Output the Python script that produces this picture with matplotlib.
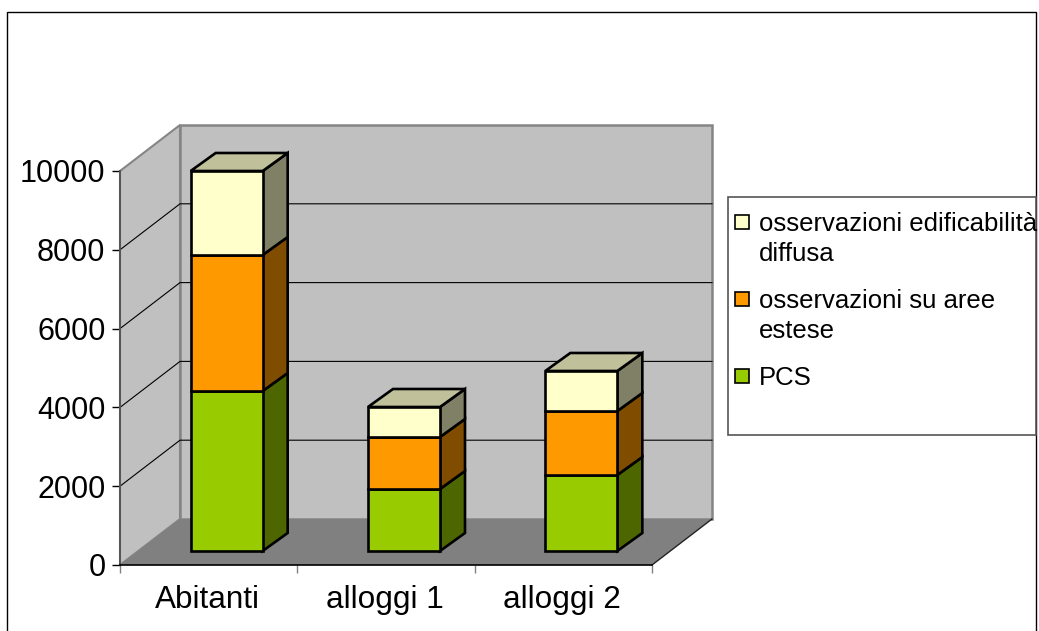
import numpy as np
import matplotlib
matplotlib.use("Agg")
import matplotlib.pyplot as plt
from matplotlib.patches import Polygon, Rectangle

plt.rcParams['font.family'] = ['Liberation Sans', 'DejaVu Sans']

categories = ["Abitanti", "alloggi 1", "alloggi 2"]
pcs = [4060, 1574, 1929]
osservazioni_aree = [3453, 1319, 1624]
osservazioni_diffusa = [2132, 762, 1016]
yticks = [0, 2000, 4000, 6000, 8000, 10000]

W, H = 1039, 631


def fx(px):
    return px / W


def fy(py):
    return 1 - py / H


# ------------------------
# Figure and front plane of the chart
# ------------------------
fig = plt.figure(figsize=(W / 100, H / 100), dpi=100)
ax = fig.add_axes([fx(120), fy(565), 532 / W, 394 / H])
ax.set_xlim(-0.5, 2.5)
ax.set_ylim(0, 10000)
ax.patch.set_visible(False)

# pixels -> data units
ux = 3 / 532
uy = 10000 / 394

# wall depth, and where the bars sit inside it
wall_dx, wall_dy = 60 * ux, 46 * uy
bar_x, bar_y = 18 * ux, 14 * uy
bar_dx, bar_dy = 25 * ux, 18 * uy
bar_w = 72 * ux


def add_poly(pts, **kw):
    p = Polygon(pts, closed=True, clip_on=False, **kw)
    ax.add_patch(p)
    return p


x0, x1 = -0.5, 2.5
ymax = 10000
wall = '#c0c0c0'
wall_edge = '#858585'

# Walls and floor
add_poly([(x0, 0), (x0 + wall_dx, wall_dy), (x0 + wall_dx, ymax + wall_dy), (x0, ymax)],
         facecolor=wall, edgecolor=wall_edge, linewidth=1.5, zorder=1)
add_poly([(x0 + wall_dx, wall_dy), (x1 + wall_dx, wall_dy), (x1 + wall_dx, ymax + wall_dy), (x0 + wall_dx, ymax + wall_dy)],
         facecolor=wall, edgecolor=wall_edge, linewidth=1.8, zorder=1)
add_poly([(x0, 0), (x1, 0), (x1 + wall_dx, wall_dy), (x0 + wall_dx, wall_dy)],
         facecolor='#808080', edgecolor='none', zorder=1.5)
ax.plot([x1, x1 + wall_dx], [0, wall_dy], color='#222222', lw=1, clip_on=False, zorder=1.6)

# Gridlines run along the side wall and the back wall
for t in yticks[1:-1]:
    ax.plot([x0, x0 + wall_dx, x1 + wall_dx], [t, t + wall_dy, t + wall_dy],
            color='black', lw=0.8, clip_on=False, zorder=2)

# ------------------------
# Stacked bars
# ------------------------
series = [
    (pcs, '#99cc00', '#4d6600', None),
    (osservazioni_aree, '#ff9900', '#804d00', None),
    (osservazioni_diffusa, '#ffffcc', '#808066', '#c0c09a'),
]
xs = np.arange(len(categories))
bottoms = np.zeros(len(categories))

for values, face, side, top in series:
    vals = np.array(values, dtype=float)
    ax.bar(xs + bar_x, vals, width=bar_w, bottom=bottoms + bar_y, color=face,
           edgecolor='black', linewidth=1.9, clip_on=False, zorder=4)
    for i in range(len(xs)):
        right = xs[i] + bar_x + bar_w / 2
        left = right - bar_w
        lo = bottoms[i] + bar_y
        hi = lo + vals[i]
        add_poly([(right, lo), (right + bar_dx, lo + bar_dy), (right + bar_dx, hi + bar_dy), (right, hi)],
                 facecolor=side, edgecolor='black', linewidth=1.9, zorder=3)
        if top is not None:
            add_poly([(left, hi), (right, hi), (right + bar_dx, hi + bar_dy), (left + bar_dx, hi + bar_dy)],
                     facecolor=top, edgecolor='black', linewidth=1.9, zorder=3)
    bottoms += vals

# ------------------------
# Axes
# ------------------------
for s in ('top', 'right'):
    ax.spines[s].set_visible(False)
ax.spines['left'].set_color('#555555')
ax.spines['left'].set_linewidth(1.4)
ax.spines['left'].set_zorder(2.5)
ax.spines['bottom'].set_color('black')
ax.spines['bottom'].set_linewidth(1.2)
ax.spines['bottom'].set_zorder(2.5)

ax.set_yticks(yticks)
ax.tick_params(axis='y', length=6, width=1, color='black', labelsize=22, pad=4.5)
ax.set_xticks([-0.5, 0.5, 1.5, 2.5])
ax.set_xticklabels([])
ax.tick_params(axis='x', length=6, width=1, color='#808080')
for x, name in zip(xs, categories):
    ax.annotate(name, (x, 0), xytext=(-1, -25), textcoords='offset points',
                ha='center', va='center', fontsize=22.7, color='black', annotation_clip=False)

# ------------------------
# Outer frame and legend box
# ------------------------
fig.add_artist(Rectangle((fx(7), fy(640)), 1029 / W, 628 / H, transform=fig.transFigure,
                         facecolor='none', edgecolor='black', linewidth=1, zorder=0))
fig.add_artist(Rectangle((fx(728), fy(435)), 308 / W, 238 / H, transform=fig.transFigure,
                         facecolor='white', edgecolor='#555555', linewidth=1.2, zorder=5))

legend_labels = ["osservazioni edificabilità\ndiffusa", "osservazioni su aree\nestese", "PCS"]
legend_colors = ['#ffffcc', '#ff9900', '#99cc00']
legend_y = [222, 299, 376]
for label, color, py in zip(legend_labels, legend_colors, legend_y):
    fig.add_artist(Rectangle((fx(735), fy(py + 7)), 14 / W, 14 / H, transform=fig.transFigure,
                             facecolor=color, edgecolor='black', linewidth=1.2, zorder=6))
    fig.text(fx(759), fy(py - 10), label, fontsize=18.5, va='top', ha='left',
             linespacing=1.3, color='black', zorder=6)

fig.savefig('out.png', dpi=100)
